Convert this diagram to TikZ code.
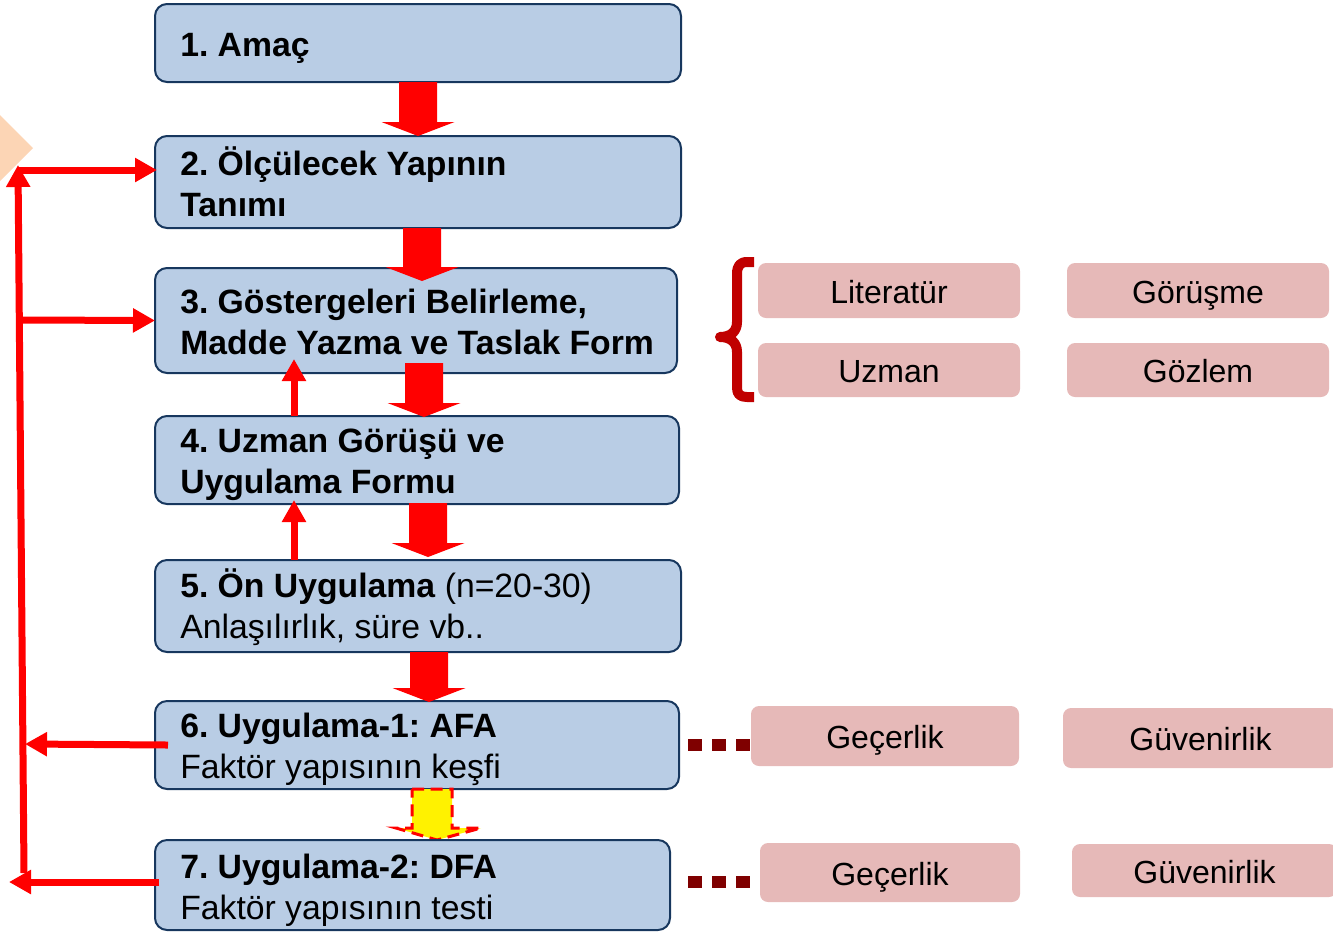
\documentclass[tikz,border=0pt]{standalone}
\usepackage{fontspec}
\setmainfont{Liberation Sans}
\usetikzlibrary{arrows.meta,calc}
\definecolor{boxblue}{HTML}{B9CDE5}
\definecolor{boxline}{HTML}{17375E}
\definecolor{pinkbox}{HTML}{E6B9B8}
\definecolor{bracered}{HTML}{C00000}
\definecolor{dotred}{HTML}{7F0000}
\definecolor{peach}{HTML}{FCD5B5}
\definecolor{arrred}{HTML}{FF0000}
\newcommand{\barrow}[4]{\fill[arrred] (#1-19,#2) -- (#1+19,#2) -- (#1+19,#3) -- (#1+36.5,#3) -- (#1,#4) -- (#1-36.5,#3) -- (#1-19,#3) -- cycle;}
\frenchspacing
\begin{document}
\begin{tikzpicture}[x=0.75pt,y=-0.75pt,
 mainbox/.style={draw=boxline,fill=boxblue,line width=1.5pt,rounded corners=9pt,anchor=north west,inner sep=0pt,outer sep=0pt},
 txt/.style={anchor=west,align=left,inner sep=0pt,font=\fontsize{25.3}{30.75}\selectfont},
 pbox/.style={fill=pinkbox,rounded corners=6pt,anchor=north west,inner sep=0pt,outer sep=0pt,text height=19.5pt,text depth=0.5pt,font=\fontsize{24}{28}\selectfont},
 redarrow/.style={draw=arrred,line width=5.25pt,-{Triangle[length=16.5pt,width=17.25pt]}},
 dotline/.style={draw=dotred,line width=9pt,dash pattern=on 10.5pt off 7.5pt},
 yelarrow/.style={fill=yellow,draw=arrred,line width=2.25pt,dash pattern=on 9pt off 5pt},
 bracestyle/.style={draw=bracered,line width=7.5pt,line join=round}
 ]
\useasboundingbox (0,0) rectangle (1333,933);
\clip (0,0) rectangle (1333,933);
% peach diamond
\fill[peach] (33,148) -- (-40,75) -- (-113,148) -- (-40,221) -- cycle;
% main boxes
\node[mainbox,minimum width=394.5pt,minimum height=58.5pt] (b1) at (155,4) {};
\node[mainbox,minimum width=394.5pt,minimum height=69pt] (b2) at (155,136) {};
\node[mainbox,minimum width=391.5pt,minimum height=78.75pt] (b3) at (155,268) {};
\node[mainbox,minimum width=393pt,minimum height=66pt] (b4) at (155,416) {};
\node[mainbox,minimum width=394.5pt,minimum height=69pt] (b5) at (155,560) {};
\node[mainbox,minimum width=393pt,minimum height=66pt] (b6) at (155,701) {};
% yellow dashed arrow 6 -> 7
\filldraw[yelarrow] (412,789) -- (452,789) -- (452,828) -- (481,828) -- (437,840) -- (396,828) -- (412,828) -- cycle;
\node[mainbox,minimum width=386.25pt,minimum height=67.5pt] (b7) at (155,840) {};
% texts
\node[txt] (t1) at ($(b1.west)+(25,5)$) {\textbf{1. Amaç}};
\node[txt] (t2) at ($(b2.west)+(25,0)$) {\textbf{2. Ölçülecek Yapının}\\\textbf{Tanımı}};
\node[txt] (t3) at ($(b3.west)+(25,1)$) {\textbf{3. Göstergeleri Belirleme,}\\\textbf{Madde Yazma ve Taslak Form}};
\node[txt] (t4) at ($(b4.west)+(25,5)$) {\textbf{4. Uzman Görüşü ve}\\\textbf{Uygulama Formu}};
\node[txt] (t5) at ($(b5.west)+(25,1.5)$) {\textbf{5. Ön Uygulama} (n=20-30)\\Anlaşılırlık, süre vb..};
\node[txt] (t6) at ($(b6.west)+(25,4)$) {\textbf{6. Uygulama-1: AFA}\\Faktör yapısının keşfi};
\node[txt] (t7) at ($(b7.west)+(25,5)$) {\textbf{7. Uygulama-2: DFA}\\Faktör yapısının testi};
% pink boxes
\node[pbox,minimum width=196.5pt,minimum height=41.25pt] (lit) at (758,263) {Literatür};
\node[pbox,minimum width=196.5pt,minimum height=41.25pt] (gor) at (1067,263) {Görüşme};
\node[pbox,minimum width=196.5pt,minimum height=40.5pt] (uzm) at (758,343) {Uzman};
\node[pbox,minimum width=196.5pt,minimum height=40.5pt] (goz) at (1067,343) {Gözlem};
\node[pbox,minimum width=201pt,minimum height=45pt] (gec1) at (751,706) {Geçerlik};
\node[pbox,minimum width=206.25pt,minimum height=45pt] (guv1) at (1063,708) {Güvenirlik};
\node[pbox,minimum width=195pt,minimum height=44.25pt] (gec2) at (760,843) {Geçerlik};
\node[pbox,minimum width=198.75pt,minimum height=39.75pt] (guv2) at (1072,844) {Güvenirlik};
% block arrows down
\barrow{418}{82}{122}{136}
\barrow{422}{228}{267}{281}
\barrow{424}{363}{403}{417}
\barrow{428}{503}{543}{557}
\barrow{429}{652}{688}{702}
% small up arrows
\draw[redarrow] ($(b4.north west)+(139,0)$) -- ($(b3.south west)+(139,-14)$);
\draw[redarrow] ($(b5.north west)+(139,0)$) -- ($(b4.south west)+(139,-4)$);
% left feedback loop
\coordinate (vb) at (24,873);
\coordinate (vt) at (18,165);
\coordinate (j2) at (19,170);
\coordinate (j3) at (20,320);
\coordinate (j6) at (25,744);
\coordinate (j7) at (9,882);
\draw[redarrow] (vb) -- (vt);
\draw[redarrow] (j2) -- ($(b2.west)+(2,-12)$);
\draw[redarrow] (j3) -- (b3.west);
\draw[redarrow] ($(b6.west)+(13,0)$) -- (j6);
\draw[redarrow] ($(b7.west)+(4,-3)$) -- (j7);
% brace
\draw[bracestyle] (754,262) -- (747,262) .. controls (740,262) and (737,266) .. (737,274) -- (737,322) .. controls (737,332) and (730,337) .. (720,337) .. controls (730,337) and (737,342) .. (737,352) -- (737,388) .. controls (737,394) and (740,397) .. (747,397) -- (754,397);
% dotted connectors
\draw[dotline] ($(b6.east)+(9,0)$) -- (b6.east -| gec1.west);
\draw[dotline] ($(b7.east)+(18,-3)$) -- ($(b7.east -| gec2.west)+(-10,-3)$);
\end{tikzpicture}
\end{document}
